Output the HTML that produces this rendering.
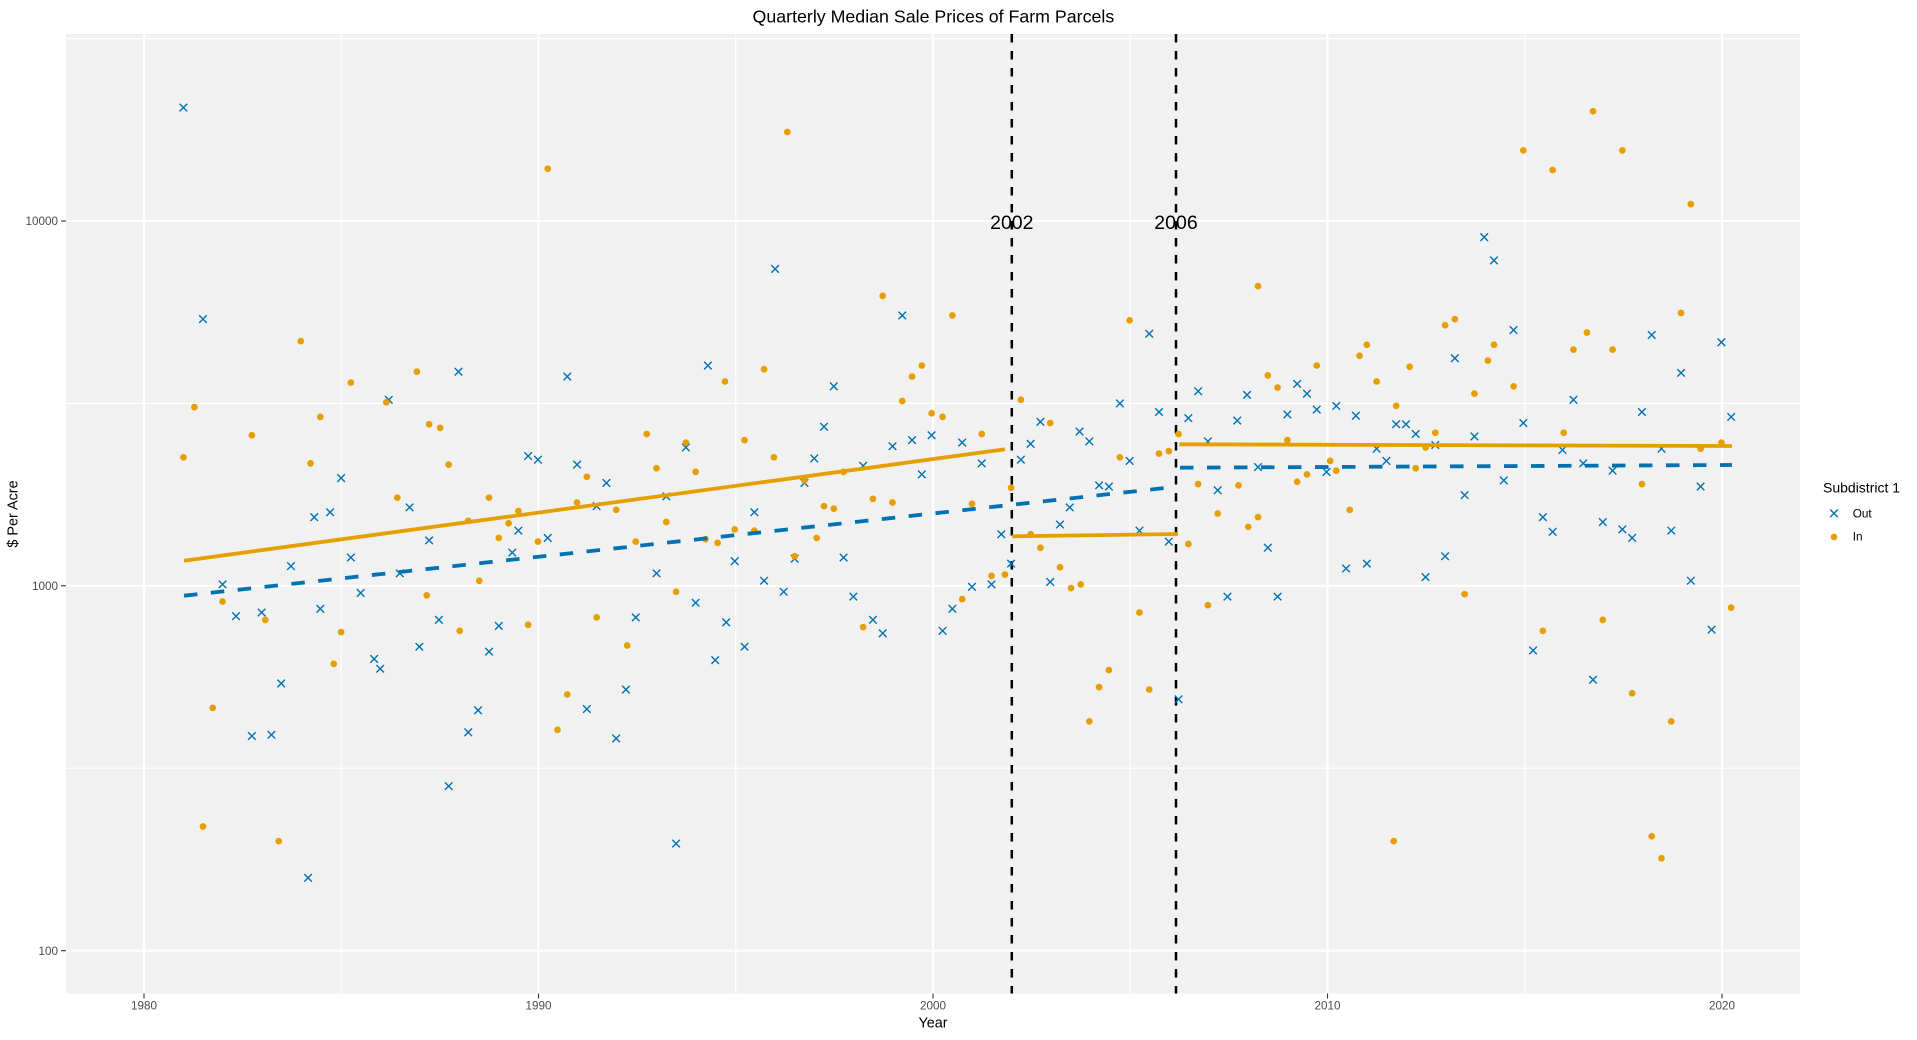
<!DOCTYPE html>
<html><head><meta charset="utf-8"><style>
html,body{margin:0;padding:0;background:#fff;}
svg{display:block;font-family:"Liberation Sans",Arial,sans-serif;}
</style></head><body>
<svg width="1917" height="1040" viewBox="0 0 1917 1040" xmlns="http://www.w3.org/2000/svg">
<defs>
<path id="m" d="M-3.1,-3.1L3.1,3.1M-3.1,3.1L3.1,-3.1" stroke="#0072B2" stroke-width="1.15" fill="none"/>
</defs>
<rect x="0" y="0" width="1917" height="1040" fill="#fff"/>
<rect x="66" y="34" width="1734" height="959.5" fill="#f1f1f1"/>
<!-- minor grid -->
<g stroke="#fff" stroke-width="1.2">
<line x1="66" x2="1800" y1="38.6" y2="38.6"/>
<line x1="66" x2="1800" y1="403.4" y2="403.4"/>
<line x1="66" x2="1800" y1="768.2" y2="768.2"/>
<line y1="34" y2="993.5" x1="341.25" x2="341.25"/>
<line y1="34" y2="993.5" x1="735.75" x2="735.75"/>
<line y1="34" y2="993.5" x1="1130.25" x2="1130.25"/>
<line y1="34" y2="993.5" x1="1524.75" x2="1524.75"/>
</g>
<!-- major grid -->
<g stroke="#fff" stroke-width="2.2">
<line x1="66" x2="1800" y1="221" y2="221"/>
<line x1="66" x2="1800" y1="585.8" y2="585.8"/>
<line x1="66" x2="1800" y1="950.7" y2="950.7"/>
<line y1="34" y2="993.5" x1="144" x2="144"/>
<line y1="34" y2="993.5" x1="538.5" x2="538.5"/>
<line y1="34" y2="993.5" x1="933" x2="933"/>
<line y1="34" y2="993.5" x1="1327.5" x2="1327.5"/>
<line y1="34" y2="993.5" x1="1722" x2="1722"/>
</g>
<!-- vertical break lines -->
<g stroke="#000" stroke-width="2.5" stroke-dasharray="8.5 8.5">
<line x1="1011.8" x2="1011.8" y1="34" y2="993.5"/>
<line x1="1176" x2="1176" y1="34" y2="993.5"/>
</g>
<!-- points (display coords scaled) -->
<g transform="scale(1.22258)">
<g>
<use href="#m" x="150" y="88"/><use href="#m" x="166" y="261"/><use href="#m" x="182" y="478"/><use href="#m" x="193" y="504"/><use href="#m" x="206" y="602"/><use href="#m" x="214" y="501"/><use href="#m" x="222" y="601"/><use href="#m" x="230" y="559"/><use href="#m" x="238" y="463"/><use href="#m" x="252" y="718"/><use href="#m" x="257" y="423"/><use href="#m" x="262" y="498"/><use href="#m" x="270" y="419"/><use href="#m" x="279" y="391"/><use href="#m" x="287" y="456"/><use href="#m" x="295" y="485"/><use href="#m" x="306" y="539"/><use href="#m" x="311" y="547"/><use href="#m" x="318" y="327"/><use href="#m" x="327" y="469"/><use href="#m" x="335" y="415"/><use href="#m" x="343" y="529"/><use href="#m" x="351" y="442"/><use href="#m" x="359" y="507"/><use href="#m" x="367" y="643"/><use href="#m" x="375" y="304"/><use href="#m" x="383" y="599"/><use href="#m" x="391" y="581"/><use href="#m" x="400" y="533"/><use href="#m" x="408" y="512"/><use href="#m" x="419" y="452"/><use href="#m" x="424" y="434"/><use href="#m" x="432" y="373"/><use href="#m" x="440" y="376"/><use href="#m" x="448" y="440"/><use href="#m" x="464" y="308"/><use href="#m" x="472" y="380"/><use href="#m" x="480" y="580"/><use href="#m" x="488" y="414"/><use href="#m" x="496" y="395"/><use href="#m" x="504" y="604"/><use href="#m" x="512" y="564"/><use href="#m" x="520" y="505"/><use href="#m" x="537" y="469"/><use href="#m" x="545" y="406"/><use href="#m" x="553" y="690"/><use href="#m" x="561" y="366"/><use href="#m" x="569" y="493"/><use href="#m" x="579" y="299"/><use href="#m" x="585" y="540"/><use href="#m" x="594" y="509"/><use href="#m" x="601" y="459"/><use href="#m" x="609" y="529"/><use href="#m" x="617" y="419"/><use href="#m" x="625" y="475"/><use href="#m" x="634" y="220"/><use href="#m" x="641" y="484"/><use href="#m" x="650" y="457"/><use href="#m" x="658" y="395"/><use href="#m" x="666" y="375"/><use href="#m" x="674" y="349"/><use href="#m" x="682" y="316"/><use href="#m" x="690" y="456"/><use href="#m" x="698" y="488"/><use href="#m" x="706" y="381"/><use href="#m" x="714" y="507"/><use href="#m" x="722" y="518"/><use href="#m" x="730" y="365"/><use href="#m" x="738" y="258"/><use href="#m" x="746" y="360"/><use href="#m" x="754" y="388"/><use href="#m" x="762" y="356"/><use href="#m" x="771" y="516"/><use href="#m" x="779" y="498"/><use href="#m" x="787" y="362"/><use href="#m" x="795" y="480"/><use href="#m" x="803" y="379"/><use href="#m" x="811" y="478"/><use href="#m" x="819" y="437"/><use href="#m" x="827" y="461"/><use href="#m" x="835" y="376"/><use href="#m" x="843" y="363"/><use href="#m" x="851" y="345"/><use href="#m" x="859" y="476"/><use href="#m" x="867" y="429"/><use href="#m" x="875" y="415"/><use href="#m" x="883" y="353"/><use href="#m" x="891" y="361"/><use href="#m" x="899" y="397"/><use href="#m" x="907" y="398"/><use href="#m" x="916" y="330"/><use href="#m" x="924" y="377"/><use href="#m" x="932" y="434"/><use href="#m" x="940" y="273"/><use href="#m" x="948" y="337"/><use href="#m" x="956" y="443"/><use href="#m" x="964" y="572"/><use href="#m" x="972" y="342"/><use href="#m" x="980" y="320"/><use href="#m" x="988" y="361"/><use href="#m" x="996" y="401"/><use href="#m" x="1004" y="488"/><use href="#m" x="1012" y="344"/><use href="#m" x="1020" y="323"/><use href="#m" x="1029" y="382"/><use href="#m" x="1037" y="448"/><use href="#m" x="1045" y="488"/><use href="#m" x="1053" y="339"/><use href="#m" x="1061" y="314"/><use href="#m" x="1069" y="322"/><use href="#m" x="1077" y="335"/><use href="#m" x="1085" y="386"/><use href="#m" x="1093" y="332"/><use href="#m" x="1101" y="465"/><use href="#m" x="1109" y="340"/><use href="#m" x="1118" y="461"/><use href="#m" x="1126" y="367"/><use href="#m" x="1134" y="377"/><use href="#m" x="1142" y="347"/><use href="#m" x="1150" y="347"/><use href="#m" x="1158" y="355"/><use href="#m" x="1166" y="472"/><use href="#m" x="1174" y="364"/><use href="#m" x="1182" y="455"/><use href="#m" x="1190" y="293"/><use href="#m" x="1198" y="405"/><use href="#m" x="1206" y="357"/><use href="#m" x="1214" y="194"/><use href="#m" x="1222" y="213"/><use href="#m" x="1230" y="393"/><use href="#m" x="1238" y="270"/><use href="#m" x="1246" y="346"/><use href="#m" x="1254" y="532"/><use href="#m" x="1262" y="423"/><use href="#m" x="1270" y="435"/><use href="#m" x="1278" y="368"/><use href="#m" x="1287" y="327"/><use href="#m" x="1295" y="379"/><use href="#m" x="1303" y="556"/><use href="#m" x="1311" y="427"/><use href="#m" x="1319" y="385"/><use href="#m" x="1327" y="433"/><use href="#m" x="1335" y="440"/><use href="#m" x="1343" y="337"/><use href="#m" x="1351" y="274"/><use href="#m" x="1359" y="367"/><use href="#m" x="1367" y="434"/><use href="#m" x="1375" y="305"/><use href="#m" x="1383" y="475"/><use href="#m" x="1391" y="398"/><use href="#m" x="1400" y="515"/><use href="#m" x="1408" y="280"/><use href="#m" x="1416" y="341"/>
</g>
<g fill="#E69F00">
<circle cx="150" cy="374" r="2.75"/><circle cx="159" cy="333" r="2.75"/><circle cx="166" cy="676" r="2.75"/><circle cx="174" cy="579" r="2.75"/><circle cx="182" cy="492" r="2.75"/><circle cx="206" cy="356" r="2.75"/><circle cx="217" cy="507" r="2.75"/><circle cx="228" cy="688" r="2.75"/><circle cx="246" cy="279" r="2.75"/><circle cx="254" cy="379" r="2.75"/><circle cx="262" cy="341" r="2.75"/><circle cx="273" cy="543" r="2.75"/><circle cx="279" cy="517" r="2.75"/><circle cx="287" cy="313" r="2.75"/><circle cx="316" cy="329" r="2.75"/><circle cx="325" cy="407" r="2.75"/><circle cx="341" cy="304" r="2.75"/><circle cx="349" cy="487" r="2.75"/><circle cx="351" cy="347" r="2.75"/><circle cx="360" cy="350" r="2.75"/><circle cx="367" cy="380" r="2.75"/><circle cx="376" cy="516" r="2.75"/><circle cx="383" cy="426" r="2.75"/><circle cx="392" cy="475" r="2.75"/><circle cx="400" cy="407" r="2.75"/><circle cx="408" cy="440" r="2.75"/><circle cx="416" cy="428" r="2.75"/><circle cx="424" cy="418" r="2.75"/><circle cx="432" cy="511" r="2.75"/><circle cx="440" cy="443" r="2.75"/><circle cx="448" cy="138" r="2.75"/><circle cx="456" cy="597" r="2.75"/><circle cx="464" cy="568" r="2.75"/><circle cx="472" cy="411" r="2.75"/><circle cx="480" cy="390" r="2.75"/><circle cx="488" cy="505" r="2.75"/><circle cx="504" cy="417" r="2.75"/><circle cx="513" cy="528" r="2.75"/><circle cx="520" cy="443" r="2.75"/><circle cx="529" cy="355" r="2.75"/><circle cx="537" cy="383" r="2.75"/><circle cx="545" cy="427" r="2.75"/><circle cx="553" cy="484" r="2.75"/><circle cx="561" cy="362" r="2.75"/><circle cx="569" cy="386" r="2.75"/><circle cx="577" cy="441" r="2.75"/><circle cx="587" cy="444" r="2.75"/><circle cx="593" cy="312" r="2.75"/><circle cx="601" cy="433" r="2.75"/><circle cx="609" cy="360" r="2.75"/><circle cx="617" cy="434" r="2.75"/><circle cx="625" cy="302" r="2.75"/><circle cx="633" cy="374" r="2.75"/><circle cx="644" cy="108" r="2.75"/><circle cx="650" cy="455" r="2.75"/><circle cx="658" cy="393" r="2.75"/><circle cx="668" cy="440" r="2.75"/><circle cx="674" cy="414" r="2.75"/><circle cx="682" cy="416" r="2.75"/><circle cx="690" cy="386" r="2.75"/><circle cx="706" cy="513" r="2.75"/><circle cx="714" cy="408" r="2.75"/><circle cx="722" cy="242" r="2.75"/><circle cx="730" cy="411" r="2.75"/><circle cx="738" cy="328" r="2.75"/><circle cx="746" cy="308" r="2.75"/><circle cx="754" cy="299" r="2.75"/><circle cx="762" cy="338" r="2.75"/><circle cx="771" cy="341" r="2.75"/><circle cx="779" cy="258" r="2.75"/><circle cx="787" cy="490" r="2.75"/><circle cx="795" cy="412" r="2.75"/><circle cx="803" cy="355" r="2.75"/><circle cx="811" cy="471" r="2.75"/><circle cx="822" cy="470" r="2.75"/><circle cx="827" cy="399" r="2.75"/><circle cx="835" cy="327" r="2.75"/><circle cx="843" cy="437" r="2.75"/><circle cx="851" cy="448" r="2.75"/><circle cx="859" cy="346" r="2.75"/><circle cx="867" cy="464" r="2.75"/><circle cx="876" cy="481" r="2.75"/><circle cx="884" cy="478" r="2.75"/><circle cx="891" cy="590" r="2.75"/><circle cx="899" cy="562" r="2.75"/><circle cx="907" cy="548" r="2.75"/><circle cx="916" cy="374" r="2.75"/><circle cx="924" cy="262" r="2.75"/><circle cx="932" cy="501" r="2.75"/><circle cx="940" cy="564" r="2.75"/><circle cx="948" cy="371" r="2.75"/><circle cx="956" cy="369" r="2.75"/><circle cx="964" cy="355" r="2.75"/><circle cx="972" cy="445" r="2.75"/><circle cx="980" cy="396" r="2.75"/><circle cx="988" cy="495" r="2.75"/><circle cx="996" cy="420" r="2.75"/><circle cx="1013" cy="397" r="2.75"/><circle cx="1021" cy="431" r="2.75"/><circle cx="1029" cy="423" r="2.75"/><circle cx="1029" cy="234" r="2.75"/><circle cx="1037" cy="307" r="2.75"/><circle cx="1045" cy="317" r="2.75"/><circle cx="1053" cy="360" r="2.75"/><circle cx="1061" cy="394" r="2.75"/><circle cx="1069" cy="388" r="2.75"/><circle cx="1077" cy="299" r="2.75"/><circle cx="1088" cy="377" r="2.75"/><circle cx="1093" cy="385" r="2.75"/><circle cx="1104" cy="417" r="2.75"/><circle cx="1112" cy="291" r="2.75"/><circle cx="1118" cy="282" r="2.75"/><circle cx="1126" cy="312" r="2.75"/><circle cx="1140" cy="688" r="2.75"/><circle cx="1142" cy="332" r="2.75"/><circle cx="1153" cy="300" r="2.75"/><circle cx="1158" cy="383" r="2.75"/><circle cx="1166" cy="366" r="2.75"/><circle cx="1174" cy="354" r="2.75"/><circle cx="1182" cy="266" r="2.75"/><circle cx="1190" cy="261" r="2.75"/><circle cx="1198" cy="486" r="2.75"/><circle cx="1206" cy="322" r="2.75"/><circle cx="1217" cy="295" r="2.75"/><circle cx="1222" cy="282" r="2.75"/><circle cx="1238" cy="316" r="2.75"/><circle cx="1246" cy="123" r="2.75"/><circle cx="1262" cy="516" r="2.75"/><circle cx="1270" cy="139" r="2.75"/><circle cx="1279" cy="354" r="2.75"/><circle cx="1287" cy="286" r="2.75"/><circle cx="1298" cy="272" r="2.75"/><circle cx="1303" cy="91" r="2.75"/><circle cx="1311" cy="507" r="2.75"/><circle cx="1319" cy="286" r="2.75"/><circle cx="1327" cy="123" r="2.75"/><circle cx="1335" cy="567" r="2.75"/><circle cx="1343" cy="396" r="2.75"/><circle cx="1351" cy="684" r="2.75"/><circle cx="1359" cy="702" r="2.75"/><circle cx="1367" cy="590" r="2.75"/><circle cx="1375" cy="256" r="2.75"/><circle cx="1383" cy="167" r="2.75"/><circle cx="1391" cy="367" r="2.75"/><circle cx="1408" cy="362" r="2.75"/><circle cx="1416" cy="497" r="2.75"/>
</g>
</g>
<!-- trend lines -->
<g fill="none" stroke-width="3.8">
<line x1="184" y1="560.7" x2="1005" y2="449.3" stroke="#E69F00"/>
<line x1="1012.3" y1="536.3" x2="1178" y2="534" stroke="#E69F00"/>
<line x1="1179.3" y1="444.3" x2="1732" y2="446" stroke="#E69F00"/>
<line x1="184" y1="595.7" x2="1174" y2="487" stroke="#0072B2" stroke-dasharray="13.5 13.5"/>
<line x1="1180" y1="467.7" x2="1732" y2="465" stroke="#0072B2" stroke-dasharray="13.5 13.5"/>
</g>
<!-- break labels -->
<g font-size="19.5" fill="#000" text-anchor="middle">
<text x="1011.8" y="229">2002</text>
<text x="1176" y="229">2006</text>
</g>
<!-- axis ticks -->
<g stroke="#333" stroke-width="1.1">
<line x1="61" x2="66" y1="221" y2="221"/>
<line x1="61" x2="66" y1="585.8" y2="585.8"/>
<line x1="61" x2="66" y1="950.7" y2="950.7"/>
<line x1="144" x2="144" y1="993.5" y2="998.5"/>
<line x1="538.5" x2="538.5" y1="993.5" y2="998.5"/>
<line x1="933" x2="933" y1="993.5" y2="998.5"/>
<line x1="1327.5" x2="1327.5" y1="993.5" y2="998.5"/>
<line x1="1722" x2="1722" y1="993.5" y2="998.5"/>
</g>
<g font-size="11.7" fill="#4D4D4D">
<text x="58" y="225.2" text-anchor="end">10000</text>
<text x="58" y="590" text-anchor="end">1000</text>
<text x="58" y="954.9" text-anchor="end">100</text>
<text x="144" y="1009.3" text-anchor="middle">1980</text>
<text x="538.5" y="1009.3" text-anchor="middle">1990</text>
<text x="933" y="1009.3" text-anchor="middle">2000</text>
<text x="1327.5" y="1009.3" text-anchor="middle">2010</text>
<text x="1722" y="1009.3" text-anchor="middle">2020</text>
</g>
<!-- titles -->
<text x="933.4" y="22.3" font-size="17.8" text-anchor="middle" fill="#000">Quarterly Median Sale Prices of Farm Parcels</text>
<text x="933" y="1027.7" font-size="14.4" text-anchor="middle" fill="#000">Year</text>
<text transform="translate(17.5,514) rotate(-90)" font-size="14.4" text-anchor="middle" fill="#000">$ Per Acre</text>
<!-- legend -->
<text x="1823" y="492.7" font-size="14" fill="#000">Subdistrict 1</text>
<path d="M1830.2,509.5L1837.8,517.1M1830.2,517.1L1837.8,509.5" stroke="#0072B2" stroke-width="1.4" fill="none"/>
<circle cx="1834" cy="537" r="3.4" fill="#E69F00"/>
<text x="1852.7" y="517.3" font-size="11.8" fill="#000">Out</text>
<text x="1852.7" y="540.7" font-size="11.8" fill="#000">In</text>
</svg>
</body></html>
